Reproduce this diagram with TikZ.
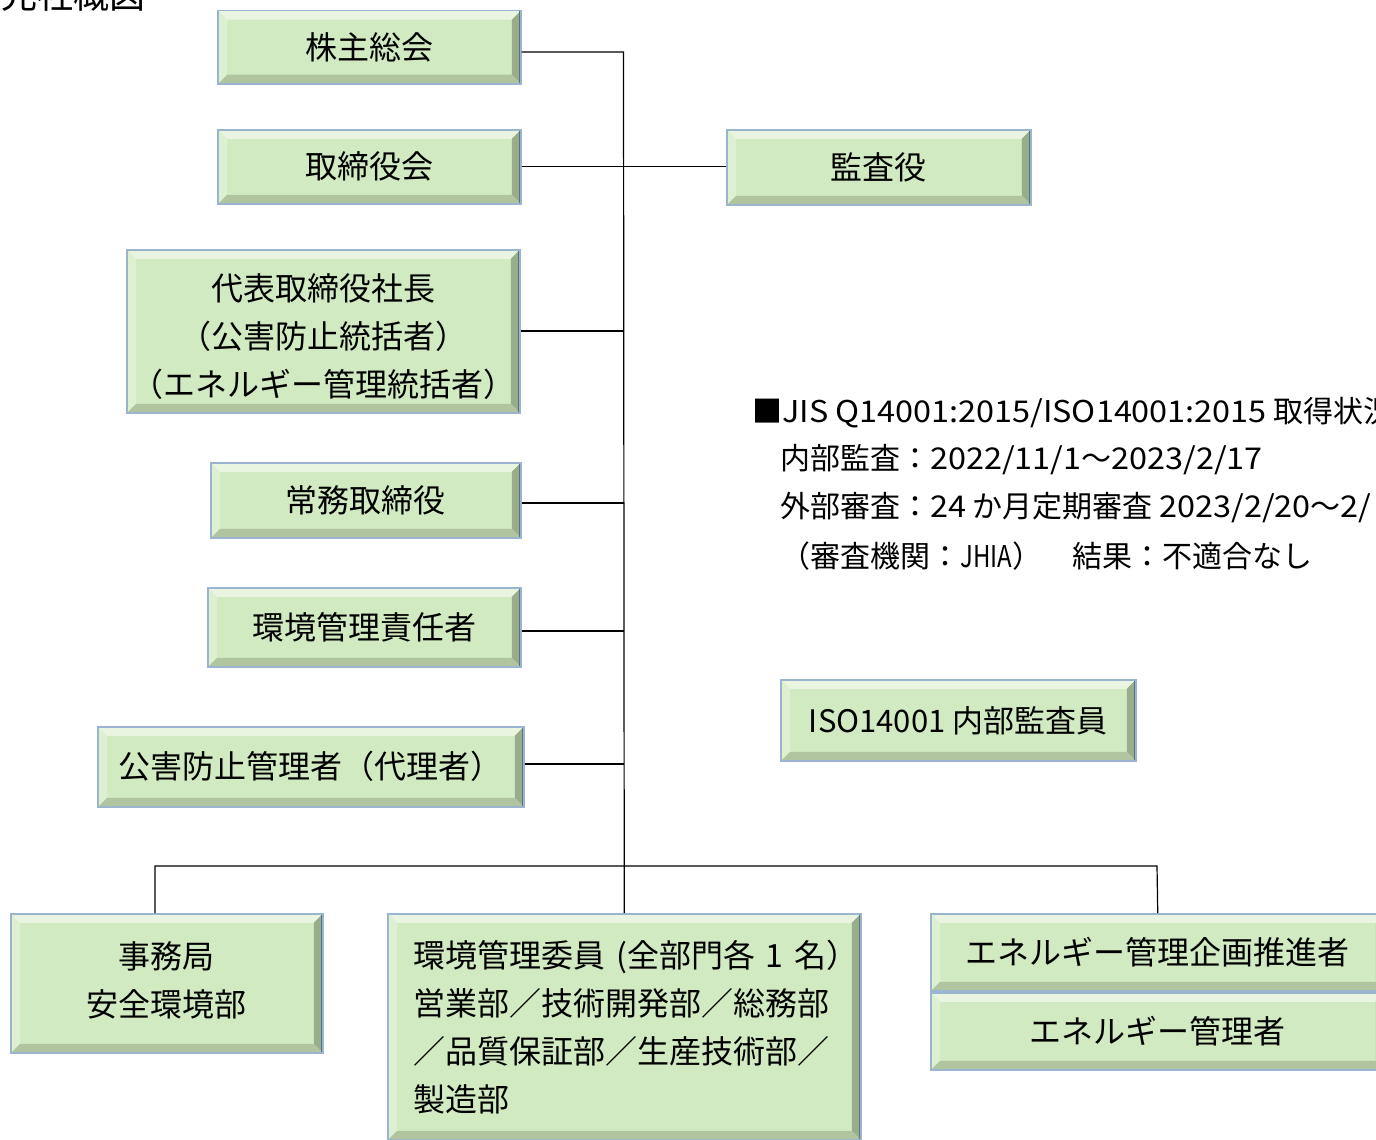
\documentclass[tikz,border=0pt]{standalone}
\usepackage{fontspec}
\usepackage{graphicx}
\setmainfont{Noto Sans CJK JP}
\newcommand{\wlat}[1]{\scalebox{1.08}[1]{#1}}
\definecolor{face}{HTML}{D2EAC1}
\definecolor{bevT}{HTML}{E9F5E0}
\definecolor{bevL}{HTML}{DDF0D1}
\definecolor{bevB}{HTML}{B0C59F}
\definecolor{bevR}{HTML}{98AD89}
\definecolor{edgeC}{HTML}{9BB4D0}
\definecolor{edgeD}{HTML}{5E7183}
\tikzset{
  bx/.style={rectangle, inner sep=0pt, anchor=north west, fill=face,
    draw=edgeC, line width=1.5pt, align=center,
    font=\fontsize{32}{48}\selectfont,
    path picture={
      \coordinate (bNW) at (path picture bounding box.north west);
      \coordinate (bNE) at (path picture bounding box.north east);
      \coordinate (bSE) at (path picture bounding box.south east);
      \coordinate (bSW) at (path picture bounding box.south west);
      \fill[bevT] (bNW) -- (bNE) -- ([shift={(-9pt,-9pt)}]bNE) -- ([shift={(9pt,-9pt)}]bNW) -- cycle;
      \fill[bevR] (bNE) -- (bSE) -- ([shift={(-9pt,9pt)}]bSE) -- ([shift={(-9pt,-9pt)}]bNE) -- cycle;
      \fill[bevB] (bSE) -- (bSW) -- ([shift={(9pt,9pt)}]bSW) -- ([shift={(-9pt,9pt)}]bSE) -- cycle;
      \fill[bevL] (bSW) -- (bNW) -- ([shift={(9pt,-9pt)}]bNW) -- ([shift={(9pt,9pt)}]bSW) -- cycle;
      \draw[edgeD, line width=3pt] (bNE) -- (bSE);
      \draw[edgeD!70, line width=2pt] (bSW) -- (bSE);
    }},
  conn/.style={draw=black, line width=1.2pt},
  info/.style={anchor=west, inner sep=0pt, font=\fontsize{30}{36}\selectfont}
}
\begin{document}
\begin{tikzpicture}[x=1pt,y=-1pt]
\useasboundingbox (0,0) rectangle (1376,1140);
\fill[white] (0,0) rectangle (1376,1140);
\clip (0,0) rectangle (1376,1140);

\node[anchor=base west, inner sep=0pt, font=\fontsize{36}{40}\selectfont] (title) at (1,9) {兄社概図};

\node[bx, minimum width=303pt, minimum height=73pt] (kabu) at (217,10) {株主総会};
\node[bx, minimum width=303pt, minimum height=74pt] (tori) at (217,129) {取締役会};
\node[bx, minimum width=304pt, minimum height=75pt] (kansa) at (726,129) {監査役};
\node[bx, minimum width=393pt, minimum height=163pt] (daihyo) at (126,249) {\rule{0pt}{38pt}代表取締役社長\\（公害防止統括者）\\（エネルギー管理統括者）};
\node[bx, minimum width=310pt, minimum height=75pt] (jomu) at (210,462) {常務取締役};
\node[bx, minimum width=313pt, minimum height=79pt] (sekinin) at (207,587) {環境管理責任者};
\node[bx, minimum width=426pt, minimum height=80pt] (kogai) at (97,726) {公害防止管理者（代理者）};
\node[bx, minimum width=355pt, minimum height=81pt, font=\fontsize{31}{40}\selectfont] (naibu) at (780,679) {ISO14001 内部監査員};
\node[bx, minimum width=312pt, minimum height=139pt] (jimu) at (10,913) {事務局\\安全環境部\rule[-8pt]{0pt}{0pt}};
\node[bx, minimum width=473pt, minimum height=226pt, align=left, text width=421pt] (iin) at (387,913) {\mbox{環境管理委員 (全部門各 1 名）}\\営業部／技術開発部／総務部\\／品質保証部／生産技術部／\\製造部};
\node[bx, minimum width=454pt, minimum height=77pt] (ene1) at (930,913) {エネルギー管理企画推進者};
\node[bx, minimum width=454pt, minimum height=77pt] (ene2) at (930,992) {エネルギー管理者};

\node[info] (l1) at (752,413) {■\wlat{JIS Q14001:2015/ISO14001:2015} 取得状況};
\node[info] (l2) at (780,460) {内部監査：\wlat{2022/11/1}～\wlat{2023/2/17}};
\node[info] (l3) at (780,508) {外部審査：\wlat{24} か月定期審査 \wlat{2023/2/20}～\wlat{2/}};
\node[info] (l4) at (780,556) {（審査機関：\scalebox{0.8}[1]{JHIA}）　結果：不適合なし};

\coordinate (tTop) at (623.5,52);
\coordinate (j3) at (623.5,331);
\coordinate (j5) at (623.5,503);
\coordinate (j6) at (623.5,631);
\coordinate (j7) at (623.5,764);
\coordinate (bL) at (155,866);
\coordinate (bR) at (1157,866);

\draw[conn] (kabu.east |- tTop) -- (tTop) -- (iin.north);
\draw[conn] (tori.east) -- (kansa.west |- tori.east);
\draw[conn] (daihyo.east |- j3) -- (j3);
\draw[conn] (jomu.east |- j5) -- (j5);
\draw[conn] (sekinin.east |- j6) -- (j6);
\draw[conn] (kogai.east |- j7) -- (j7);
\draw[conn] (jimu.north -| bL) -- (bL) -- (bR) -- (ene1.north);
\end{tikzpicture}
\end{document}
